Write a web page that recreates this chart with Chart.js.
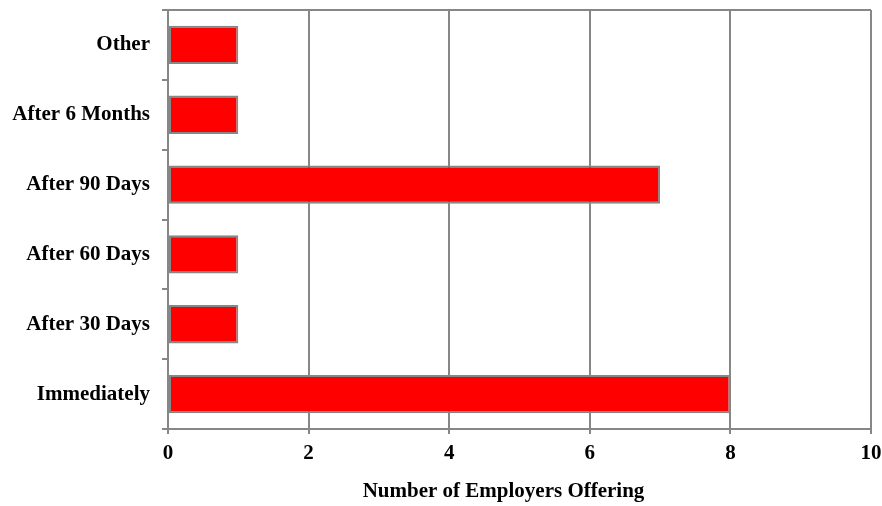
<!DOCTYPE html>
<html>
<head>
<meta charset="utf-8">
<script src="https://cdn.jsdelivr.net/npm/chart.js@4/dist/chart.umd.min.js"></script>
<style>
  html, body { margin: 0; padding: 0; background: #ffffff; }
  #wrap { width: 882px; height: 506px; position: relative; }
</style>
</head>
<body>
<div id="wrap"><canvas id="c" width="882" height="506"></canvas></div>
<script>
const categories = ["Other", "After 6 Months", "After 90 Days", "After 60 Days", "After 30 Days", "Immediately"];
const employersOffering = [1, 1, 7, 1, 1, 8];
const xTickValues = [0, 2, 4, 6, 8, 10];
const xAxisTitle = "Number of Employers Offering";

const GRAY = "#878787";
const FONT = { family: "'Liberation Serif', 'Times New Roman', serif", weight: "bold", size: 21 };

const frameAndTitle = {
  id: "frameAndTitle",
  afterDraw(chart) {
    const { ctx, chartArea } = chart;
    ctx.save();
    ctx.strokeStyle = GRAY;
    ctx.lineWidth = 2;
    ctx.beginPath();
    ctx.moveTo(chartArea.left - 6, chartArea.top);
    ctx.lineTo(chartArea.right, chartArea.top);
    ctx.stroke();
    // x-axis title, placed slightly left of the plot centre as in the reference
    ctx.fillStyle = "#000";
    ctx.font = "bold 21px 'Liberation Serif', 'Times New Roman', serif";
    ctx.textAlign = "center";
    ctx.textBaseline = "middle";
    ctx.fillText(xAxisTitle, (chartArea.left + chartArea.right) / 2 - 16, chart.height - 14);
    ctx.restore();
  }
};

new Chart(document.getElementById("c"), {
  type: "bar",
  data: {
    labels: categories,
    datasets: [{
      data: employersOffering,
      backgroundColor: "#ff0000",
      borderColor: GRAY,
      borderWidth: 2,
      borderSkipped: false,
      categoryPercentage: 1.0,
      barPercentage: 0.55
    }]
  },
  options: {
    indexAxis: "y",
    responsive: false,
    animation: false,
    devicePixelRatio: 1,
    layout: { padding: { top: 10, right: 11, bottom: 0, left: 0 } },
    plugins: { legend: { display: false }, tooltip: { enabled: false } },
    scales: {
      x: {
        min: 0,
        max: 10,
        afterBuildTicks(scale) { scale.ticks = xTickValues.map(v => ({ value: v })); },
        afterFit(scale) { scale.height = 77; scale.paddingLeft = 0; scale.paddingRight = 0; },
        grid: { color: GRAY, lineWidth: 2, tickLength: 5, drawTicks: true },
        border: { color: GRAY, width: 2 },
        ticks: { color: "#000", font: FONT, padding: 7, maxRotation: 0 },
        title: { display: false }
      },
      y: {
        afterFit(scale) { scale.width = 168; scale.paddingTop = 0; scale.paddingBottom = 0; },
        grid: { drawOnChartArea: false, color: GRAY, lineWidth: 2, tickLength: 6, offset: true },
        border: { color: GRAY, width: 2 },
        ticks: { color: "#000", font: FONT, padding: 12 }
      }
    }
  },
  plugins: [frameAndTitle]
});
</script>
</body>
</html>
